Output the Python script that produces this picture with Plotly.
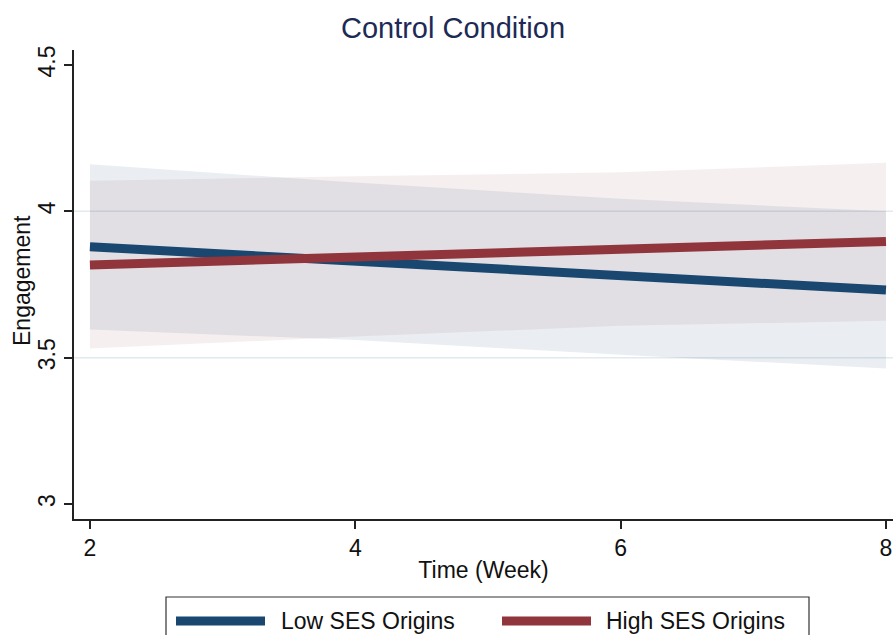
import plotly.graph_objects as go

# ---- data ----
weeks = [2, 4, 6, 8]
low_mean = [3.879, 3.830, 3.780, 3.731]
low_lo = [3.596, 3.560, 3.510, 3.463]
low_hi = [4.161, 4.098, 4.043, 4.000]
high_mean = [3.817, 3.845, 3.871, 3.897]
high_lo = [3.531, 3.572, 3.609, 3.626]
high_hi = [4.104, 4.120, 4.133, 4.166]
series_names = ["Low SES Origins", "High SES Origins"]
y_ticks = [3, 3.5, 4, 4.5]
y_ticktext = ["3", "3.5", "4", "4.5"]
x_ticks = [2, 4, 6, 8]
grid_values = [3.5, 4.0]

BLUE = "#1a476f"
RED = "#90353b"
FONT = "Liberation Sans, Arial, Helvetica, sans-serif"

fig = go.Figure()

# CI bands
fig.add_trace(go.Scatter(x=weeks, y=low_lo, mode="lines", line=dict(width=0),
                         showlegend=False, hoverinfo="skip"))
fig.add_trace(go.Scatter(x=weeks, y=low_hi, mode="lines", line=dict(width=0),
                         fill="tonexty", fillcolor="rgba(26,71,111,0.09)",
                         showlegend=False, hoverinfo="skip"))
fig.add_trace(go.Scatter(x=weeks, y=high_lo, mode="lines", line=dict(width=0),
                         showlegend=False, hoverinfo="skip"))
fig.add_trace(go.Scatter(x=weeks, y=high_hi, mode="lines", line=dict(width=0),
                         fill="tonexty", fillcolor="rgba(144,53,59,0.08)",
                         showlegend=False, hoverinfo="skip"))
# lines
fig.add_trace(go.Scatter(x=weeks, y=low_mean, mode="lines", name=series_names[0],
                         line=dict(color=BLUE, width=9), showlegend=False))
fig.add_trace(go.Scatter(x=weeks, y=high_mean, mode="lines", name=series_names[1],
                         line=dict(color=RED, width=9), showlegend=False))

# grid lines (only interior ticks, as in the original)
for g in grid_values:
    fig.add_shape(type="line", xref="paper", yref="y", x0=0, x1=1, y0=g, y1=g,
                  line=dict(color="#e1eaed", width=1.5), layer="below")

# manual legend
L, R, T, B = 74, 893, 50, 519
W, H = R - L, B - T
px = lambda v: (v - L) / W
py = lambda v: (B - v) / H

fig.add_shape(type="rect", xref="paper", yref="paper",
              x0=px(166), x1=px(809), y0=py(597), y1=py(660),
              line=dict(color="#333333", width=1.2), fillcolor="white")
for (x0, x1, c) in [(176, 265, BLUE), (502, 591, RED)]:
    fig.add_shape(type="line", xref="paper", yref="paper",
                  x0=px(x0), x1=px(x1), y0=py(621), y1=py(621),
                  line=dict(color=c, width=9))
for (xt, name) in [(279, series_names[0]), (604, series_names[1])]:
    fig.add_annotation(xref="paper", yref="paper", x=px(xt), y=py(621),
                       xanchor="left", yanchor="middle", text=name, showarrow=False,
                       font=dict(family=FONT, size=23, color="#111111"))

# y-axis title as annotation for exact placement
fig.add_annotation(xref="paper", yref="paper", x=px(22), y=py(281),
                   xanchor="center", yanchor="middle", text="Engagement", textangle=-90,
                   showarrow=False, font=dict(family=FONT, size=23, color="#111111"))

fig.update_layout(
    width=893, height=635,
    margin=dict(l=L, r=893 - R, t=T, b=635 - B, autoexpand=False),
    paper_bgcolor="white", plot_bgcolor="white",
    showlegend=False,
    title=dict(text="Control Condition", x=453 / 893, xref="container", xanchor="center",
               y=1 - 28 / 635, yref="container", yanchor="middle",
               font=dict(family=FONT, size=29, color="#1c2a55")),
    font=dict(family=FONT, size=22, color="#111111"),
)
fig.update_xaxes(range=[1.88, 8.053], tickvals=x_ticks, showgrid=False, zeroline=False,
                 showline=True, linecolor="#222222", linewidth=1.5, automargin=False,
                 ticks="outside", ticklen=8, tickcolor="#222222", tickwidth=1.5,
                 tickfont=dict(size=23), ticklabeloverflow="allow",
                 title=dict(text="Time (Week)", font=dict(size=23), standoff=2))
fig.update_yaxes(range=[2.949, 4.551], tickvals=y_ticks, ticktext=y_ticktext,
                 tickangle=-90, showgrid=False, zeroline=False, automargin=False,
                 showline=True, linecolor="#222222", linewidth=1.5,
                 ticks="outside", ticklen=8, tickcolor="#222222", tickwidth=1.5,
                 tickfont=dict(size=23))

fig.write_html("out.html", config={"displayModeBar": False},
               post_script="document.body.style.margin='0px';document.body.style.overflow='hidden';")
